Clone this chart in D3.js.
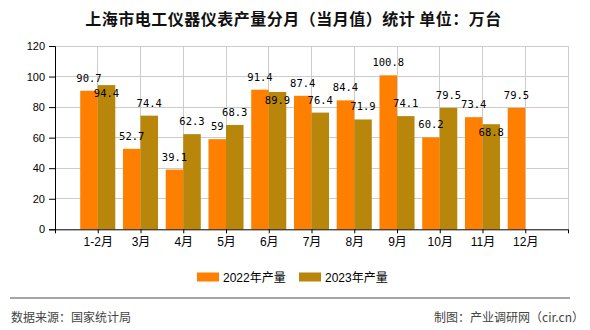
<!DOCTYPE html>
<html><head><meta charset="utf-8">
<script src="https://cdn.jsdelivr.net/npm/d3@7/dist/d3.min.js"></script>
<style>
html,body{margin:0;padding:0;background:#fff;}
svg{display:block;}
</style></head>
<body>
<svg id="chart" width="590" height="330"></svg>
<script>
const categories = ["1-2月","3月","4月","5月","6月","7月","8月","9月","10月","11月","12月"];
const values2022 = [90.7,52.7,39.1,59,91.4,87.4,84.4,100.8,60.2,73.4,79.5];
const values2023 = [94.4,74.4,62.3,68.3,89.9,76.4,71.9,74.1,79.5,68.8,null];
const seriesNames = ["2022年产量","2023年产量"];
const yTicks = [0,20,40,60,80,100,120];
const titleText = "上海市电工仪器仪表产量分月（当月值）统计 单位：万台";
const sourceText = "数据来源：国家统计局";
const creditText = "制图：产业调研网（cir.cn）";

const colors = ["#FF8000","#B8860B"];
const cjk = "'Liberation Sans','Noto Sans CJK SC',sans-serif";
const svg = d3.select("#chart");
const L = 55, R = 568, T = 46, B = 229.3;

const x = d3.scaleLinear().domain([0, categories.length + 1]).range([L, R]);
const y = d3.scaleLinear().domain([0, 120]).range([B, T]);
const step = x(1) - x(0);
const bw = step * 0.41;

// title
svg.append("text").attr("x", 293.5).attr("y", 17.5)
  .attr("text-anchor","middle").attr("dominant-baseline","central")
  .style("font-family","'Noto Sans CJK SC',sans-serif").style("font-size","16px").style("font-weight","bold")
  .style("letter-spacing","0.5px")
  .attr("fill","#111").text(titleText);

// gridlines
const g = svg.append("g");
g.selectAll("line.hg").data(yTicks.filter(d=>d>0)).join("line")
  .attr("x1", L).attr("x2", R).attr("y1", d=>y(d)).attr("y2", d=>y(d))
  .attr("stroke","#cccccc").attr("stroke-width",1).attr("shape-rendering","crispEdges");
g.selectAll("line.vg").data(d3.range(1, categories.length + 2)).join("line")
  .attr("x1", d=>x(d)).attr("x2", d=>x(d)).attr("y1", T).attr("y2", B)
  .attr("stroke","#cccccc").attr("stroke-width",1).attr("shape-rendering","crispEdges");

// bars
const series = [values2022, values2023];
series.forEach((vals, si) => {
  svg.append("g").selectAll("rect").data(vals.map((v,i)=>({v,i})).filter(d=>d.v!=null)).join("rect")
    .attr("x", d => si === 0 ? x(d.i+1) - bw : x(d.i+1))
    .attr("width", bw)
    .attr("y", d => y(d.v))
    .attr("height", d => y(0) - y(d.v))
    .attr("fill", colors[si]);
});

// axes
const yAxis = d3.axisLeft(y).tickValues(yTicks).tickSize(6).tickPadding(4).tickFormat(d3.format("d"));
const ya = svg.append("g").attr("transform",`translate(${L},0)`).call(yAxis);
ya.select(".domain").attr("stroke","#000");
ya.selectAll(".tick line").attr("stroke","#000");
ya.selectAll("text").style("font-family",cjk).style("font-size","11px").attr("fill","#000");

const xAxis = d3.axisBottom(x).tickValues(d3.range(0, categories.length + 2)).tickSize(4).tickPadding(4)
  .tickFormat(d => (d>=1 && d<=categories.length) ? categories[d-1] : "");
const xa = svg.append("g").attr("transform",`translate(0,${B})`).call(xAxis);
xa.select(".domain").attr("stroke","#000").attr("d", `M${L},0.5H${R}`);
xa.selectAll(".tick line").attr("stroke","#000");
xa.selectAll("text").style("font-family",cjk).style("font-size","12px").attr("fill","#000");

// value labels
const labelFont = "'DejaVu Sans Mono',monospace";
const labels = [];
categories.forEach((c,i) => {
  const v1 = values2022[i], v2 = values2023[i];
  let y1 = v1 != null ? y(v1) - 13 : null;
  if (v1 != null) labels.push({t: v1, x: x(i+1) - bw/2, y: y1});
  if (v2 != null) {
    let y2 = y(v2) - 13;
    if (y1 != null && Math.abs(y2 - y1) < 12) y2 = y(v2) + 8;
    labels.push({t: v2, x: x(i+1) + bw/2, y: y2});
  }
});
svg.append("g").selectAll("text").data(labels).join("text")
  .attr("x", d=>d.x).attr("y", d=>d.y)
  .attr("text-anchor","middle").attr("dominant-baseline","central")
  .style("font-family",labelFont).style("font-size","10.5px").attr("fill","#000")
  .text(d=>d.t);

// legend
const legX = [197, 299];
seriesNames.forEach((n, i) => {
  svg.append("rect").attr("x", legX[i]).attr("y", 272.5).attr("width", 22).attr("height", 9).attr("fill", colors[i]);
  svg.append("text").attr("x", legX[i] + 26).attr("y", 277.5).attr("dominant-baseline","central")
    .style("font-family",cjk).style("font-size","12px").attr("fill","#000").text(n);
});

// footer
svg.append("line").attr("x1",10).attr("x2",570).attr("y1",298).attr("y2",298)
  .attr("stroke","#888").attr("stroke-width",1.5);
svg.append("text").attr("x",11).attr("y",316).attr("dominant-baseline","central")
  .style("font-family","'Noto Sans CJK SC',sans-serif").style("font-size","12px").attr("fill","#444").text(sourceText);
svg.append("text").attr("x",584).attr("y",316).attr("dominant-baseline","central").attr("text-anchor","end")
  .style("font-family","'Noto Sans CJK SC',sans-serif").style("font-size","12px").attr("fill","#444").text(creditText);
</script>
</body></html>
